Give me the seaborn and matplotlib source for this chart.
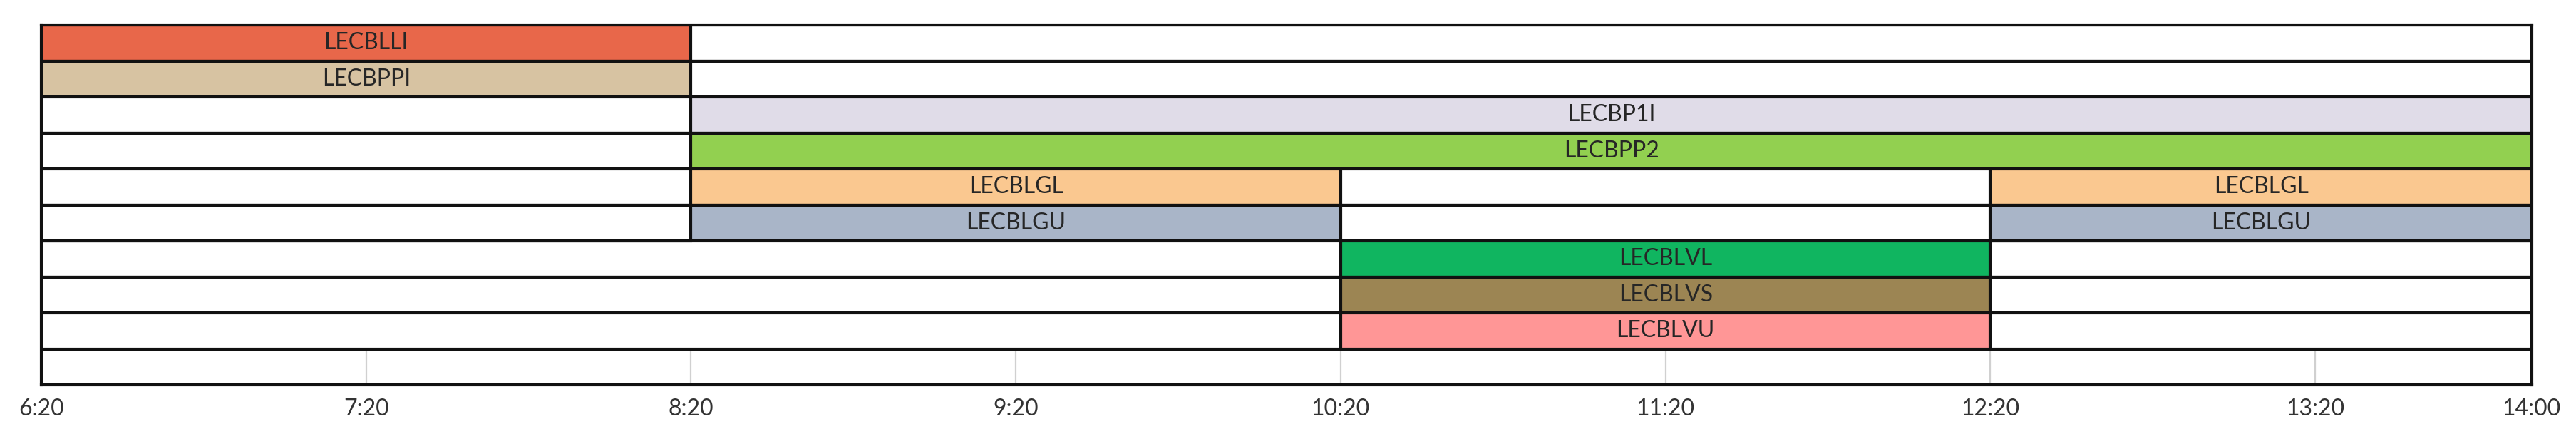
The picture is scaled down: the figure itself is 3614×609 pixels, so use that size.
import matplotlib
matplotlib.use("Agg")
import matplotlib.pyplot as plt
import seaborn as sns
import pandas as pd

# ---- data ----
row_ids = ["R1", "R2", "R3", "R4", "R5", "R6", "R7", "R8", "R9", "R10"]

seg_row = ["R1", "R1",
           "R2", "R2",
           "R3", "R3",
           "R4", "R4",
           "R5", "R5", "R5", "R5",
           "R6", "R6", "R6", "R6",
           "R7", "R7", "R7",
           "R8", "R8", "R8",
           "R9", "R9", "R9"]
seg_start = ["6:20", "8:20",
             "6:20", "8:20",
             "6:20", "8:20",
             "6:20", "8:20",
             "6:20", "8:20", "10:20", "12:20",
             "6:20", "8:20", "10:20", "12:20",
             "6:20", "10:20", "12:20",
             "6:20", "10:20", "12:20",
             "6:20", "10:20", "12:20"]
seg_end = ["8:20", "14:00",
           "8:20", "14:00",
           "8:20", "14:00",
           "8:20", "14:00",
           "8:20", "10:20", "12:20", "14:00",
           "8:20", "10:20", "12:20", "14:00",
           "10:20", "12:20", "14:00",
           "10:20", "12:20", "14:00",
           "10:20", "12:20", "14:00"]
seg_label = ["LECBLLI", "",
             "LECBPPI", "",
             "", "LECBP1I",
             "", "LECBPP2",
             "", "LECBLGL", "", "LECBLGL",
             "", "LECBLGU", "", "LECBLGU",
             "", "LECBLVL", "",
             "", "LECBLVS", "",
             "", "LECBLVU", ""]

sector_names = ["LECBLLI", "LECBPPI", "LECBP1I", "LECBPP2", "LECBLGL",
                "LECBLGU", "LECBLVL", "LECBLVS", "LECBLVU"]
sector_colors = ["#E8674A", "#D7C3A2", "#E0DCE8", "#92D050", "#FAC890",
                 "#A9B5C8", "#10B560", "#9C8553", "#FF9696"]

tick_labels = ["6:20", "7:20", "8:20", "9:20", "10:20", "11:20",
               "12:20", "13:20", "14:00"]
axis_start = "6:20"
axis_end = "14:00"


def to_min(t):
    h, m = t.split(":")
    return int(h) * 60 + int(m)


t0 = to_min(axis_start)

df = pd.DataFrame({"row": seg_row, "start": seg_start, "end": seg_end,
                   "label": seg_label})
df["s"] = df["start"].map(to_min) - t0
df["e"] = df["end"].map(to_min) - t0
df["hue"] = df["label"].replace("", "blank")
# layer: within each row, draw the longest bar first
df["layer"] = df.groupby("row")["e"].rank(ascending=False, method="first").astype(int)

palette = dict(zip(sector_names, sector_colors))
palette["blank"] = "#FFFFFF"

# ---- style ----
sns.set_theme(style="white")
plt.rcParams["font.family"] = ["Lato", "DejaVu Sans"]

fig = plt.figure(figsize=(36.14, 6.09), dpi=100)
W, H = 3614, 609
ax = fig.add_axes([58 / W, 1 - 540 / H, (3552 - 58) / W, (540 - 35) / H])

for layer in sorted(df["layer"].unique()):
    sub = df[df["layer"] == layer]
    sns.barplot(data=sub, x="e", y="row", hue="hue", order=row_ids,
                palette=palette, saturation=1, orient="h", dodge=False,
                width=1.0, errorbar=None, edgecolor="#111111", linewidth=3.0,
                legend=False, ax=ax, zorder=2)

for _, r in df[df["label"] != ""].iterrows():
    ax.text((r["s"] + r["e"]) / 2, row_ids.index(r["row"]), r["label"],
            ha="center", va="center", fontsize=23, color="#262626", zorder=5)

tick_pos = [to_min(t) - t0 for t in tick_labels]
ax.set_xlim(0, to_min(axis_end) - t0)
ax.set_ylim(len(row_ids) - 0.5, -0.5)
ax.set_xticks(tick_pos)
ax.set_xticklabels(tick_labels, fontsize=23, color="#333333")
ax.set_yticks([])
ax.set_xlabel("")
ax.set_ylabel("")
ax.tick_params(axis="x", length=0, pad=14)
ax.grid(axis="x", color="#d0d0d0", linewidth=1.6, zorder=0)
ax.set_axisbelow(True)
for sp in ax.spines.values():
    sp.set_visible(True)
    sp.set_color("#111111")
    sp.set_linewidth(3.0)
    sp.set_zorder(6)

fig.savefig("out.png", dpi=100, facecolor="white")
